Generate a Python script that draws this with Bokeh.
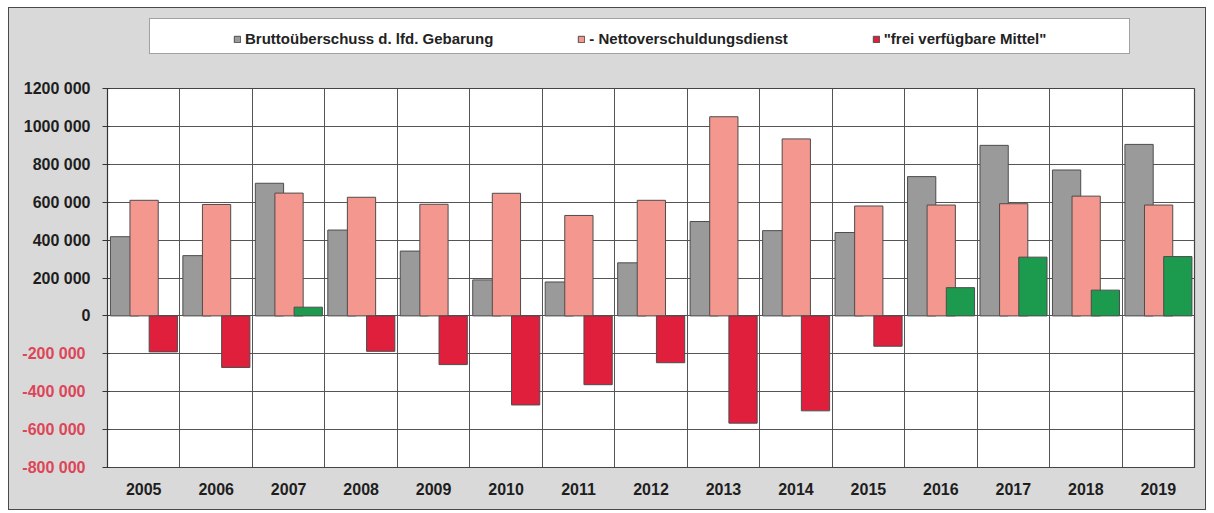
from bokeh.plotting import figure
from bokeh.models import (FactorRange, Range1d, ColumnDataSource, FixedTicker,
                          LinearAxis, Legend, LegendItem)
from bokeh.transform import dodge
from bokeh.layouts import column
from bokeh.embed import file_html
from bokeh.resources import INLINE

# ---------------- data ----------------
years = ["2005", "2006", "2007", "2008", "2009", "2010", "2011", "2012",
         "2013", "2014", "2015", "2016", "2017", "2018", "2019"]
brutto = [418000, 318000, 700000, 453000, 342000, 190000, 179000, 280000,
          498000, 450000, 440000, 735000, 900000, 770000, 905000]
netto = [610000, 588000, 648000, 626000, 589000, 647000, 530000, 610000,
         1051000, 934000, 580000, 585000, 592000, 632000, 585000]
frei = [-190000, -272000, 46000, -187000, -257000, -470000, -363000, -247000,
        -566000, -501000, -160000, 149000, 310000, 136000, 313000]

series_labels = ["Bruttoüberschuss d. lfd. Gebarung",
                 "- Nettoverschuldungsdienst",
                 "\"frei verfügbare Mittel\""]

y_ticks = [-800000, -600000, -400000, -200000, 0, 200000, 400000,
           600000, 800000, 1000000, 1200000]
y_labels = ["-800 000", "-600 000", "-400 000", "-200 000", "0", "200 000",
            "400 000", "600 000", "800 000", "1000 000", "1200 000"]

# ---------------- styles ----------------
BG = "#d9d9d9"
EDGE = "#4d4d4d"
GRID = "#555555"
GRAY = "#9a9a9a"
PINK = "#f4978e"
RED = "#e01f3d"
GREEN = "#1c9a4e"
NEG_LABEL = "#dd4558"
FONT = "Liberation Sans"

frei_colors = [GREEN if v >= 0 else RED for v in frei]

src = ColumnDataSource(dict(year=years, brutto=brutto, netto=netto,
                            frei=frei, frei_color=frei_colors))

x_range = FactorRange(*years)
y_range = Range1d(-800000, 1200000)


def add_bars(fig, visible=True):
    r1 = fig.vbar(x=dodge("year", -0.265, range=x_range), top="brutto",
                  width=0.39, source=src, fill_color=GRAY, line_color=EDGE,
                  line_width=1, visible=visible)
    r2 = fig.vbar(x=dodge("year", 0.005, range=x_range), top="netto",
                  width=0.39, source=src, fill_color=PINK, line_color=EDGE,
                  line_width=1, visible=visible)
    r3 = fig.vbar(x=dodge("year", 0.27, range=x_range), top="frei",
                  width=0.39, source=src, fill_color="frei_color",
                  line_color=EDGE, line_width=1, visible=visible)
    return r1, r2, r3


# ---------------- main chart ----------------
p = figure(x_range=x_range, y_range=y_range,
           width=1196, height=451, output_backend="svg", toolbar_location=None,
           min_border_left=98, min_border_right=11, min_border_top=30,
           min_border_bottom=42, background_fill_color="white",
           border_fill_color=BG, outline_line_color="#444444",
           outline_line_width=1.2)

add_bars(p)

# grids
p.ygrid.ticker = FixedTicker(ticks=y_ticks)
p.ygrid.grid_line_color = GRID
p.ygrid.grid_line_width = 1
p.xgrid.ticker = FixedTicker(ticks=list(range(len(years) + 1)))
p.xgrid.grid_line_color = GRID
p.xgrid.grid_line_width = 1

# x axis
p.xaxis.major_tick_line_color = None
p.xaxis.minor_tick_line_color = None
p.xaxis.axis_line_color = "#444444"
p.xaxis.major_label_text_font = FONT
p.xaxis.major_label_text_font_style = "bold"
p.xaxis.major_label_text_font_size = "16px"
p.xaxis.major_label_text_color = "#1e1e1e"
p.xaxis.major_label_standoff = 9

# y axis (positive labels black, ticks everywhere)
pos_over = {t: (lab if t >= 0 else "") for t, lab in zip(y_ticks, y_labels)}
p.yaxis.ticker = FixedTicker(ticks=y_ticks)
p.yaxis.major_label_overrides = pos_over
p.yaxis.axis_line_color = "#333333"
p.yaxis.major_tick_line_color = "#333333"
p.yaxis.major_tick_out = 5
p.yaxis.major_tick_in = 2
p.yaxis.minor_tick_line_color = None
p.yaxis.major_label_text_font = FONT
p.yaxis.major_label_text_font_style = "bold"
p.yaxis.major_label_text_font_size = "16px"
p.yaxis.major_label_text_color = "#1e1e1e"
p.yaxis.major_label_standoff = 12

# second (outer) left axis carrying the red negative labels, pulled inward
neg_ticks = [t for t in y_ticks if t < 0]
neg_over = {t: lab for t, lab in zip(y_ticks, y_labels) if t < 0}
ax2 = LinearAxis(ticker=FixedTicker(ticks=neg_ticks),
                 major_label_overrides=neg_over,
                 axis_line_color=None, major_tick_line_color=None,
                 minor_tick_line_color=None, major_tick_out=0, major_tick_in=0,
                 major_label_text_font=FONT, major_label_text_font_style="bold",
                 major_label_text_font_size="16px",
                 major_label_text_color=NEG_LABEL,
                 major_label_standoff=-65)
p.add_layout(ax2, "left")

# ---------------- legend strip ----------------
lg = figure(width=1196, height=50, x_range=x_range, y_range=y_range,
            output_backend="svg", toolbar_location=None,
            x_axis_location=None, y_axis_location=None,
            min_border_left=98, min_border_right=11, min_border_top=0,
            min_border_bottom=0, background_fill_color=BG,
            border_fill_color=BG, outline_line_color=None)
lg.xgrid.visible = False
lg.ygrid.visible = False

l1, l2, l3 = add_bars(lg, visible=False)
l0 = lg.vbar(x=dodge("year", 0, range=x_range), top="brutto", width=0.39,
             source=src, fill_alpha=0, line_alpha=0, visible=False)

# white legend box
box = Legend(items=[LegendItem(label=" ", renderers=[l0])],
             location=(42, 4), padding=0, margin=0, glyph_width=0,
             glyph_height=34, label_standoff=0, label_width=979,
             label_height=34, border_line_color="#444444",
             border_line_width=1.2, background_fill_color="white",
             background_fill_alpha=1, label_text_font_size="2px")
lg.add_layout(box)

legend = Legend(items=[LegendItem(label=series_labels[0], renderers=[l1]),
                       LegendItem(label=series_labels[1], renderers=[l2]),
                       LegendItem(label=series_labels[2], renderers=[l3], index=0)],
                orientation="horizontal", location=(126, 11), spacing=84,
                padding=0, margin=0, glyph_width=8, glyph_height=8,
                label_standoff=4, border_line_color=None,
                background_fill_alpha=0, label_text_font=FONT,
                label_text_font_style="bold", label_text_font_size="15px",
                label_text_color="#222222")
lg.add_layout(legend)

layout = column(lg, p, spacing=0,
                styles={"border": "1.5px solid #4a4a4a",
                        "margin-left": "8px", "margin-top": "7px",
                        "background-color": BG})

open("out.html", "w").write(file_html(layout, INLINE))
